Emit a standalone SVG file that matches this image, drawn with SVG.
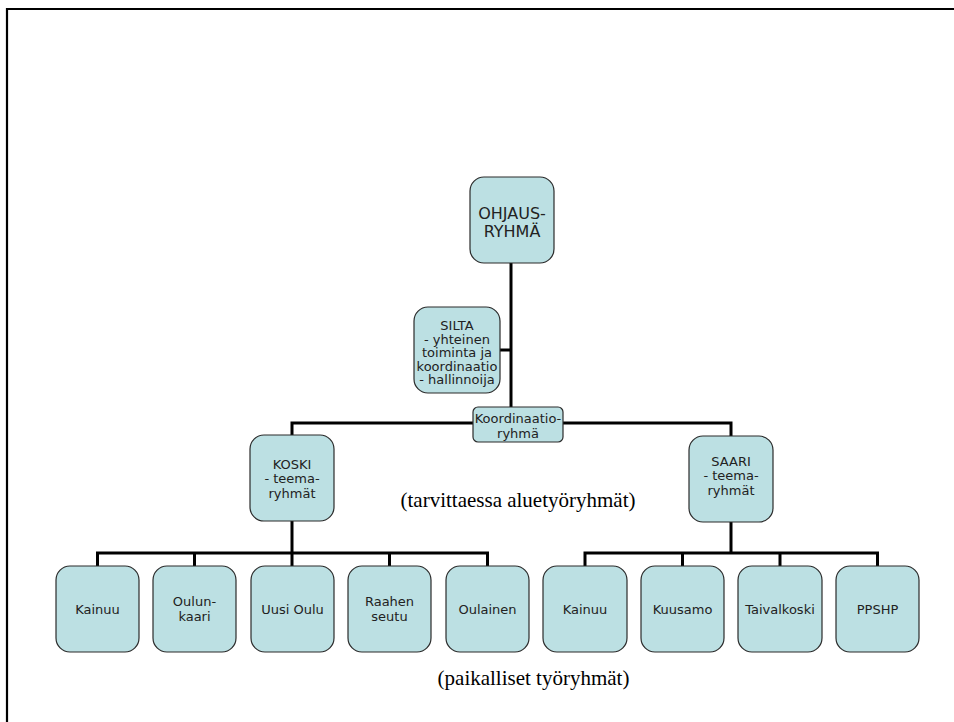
<svg xmlns="http://www.w3.org/2000/svg" width="954" height="722" viewBox="0 0 954 722">
<style>
.box{fill:#bce0e3;stroke:#2b2b2b;stroke-width:1.2}
.t{font-family:"DejaVu Sans",Verdana,sans-serif;font-size:13px;fill:#222;text-anchor:middle}
.big{font-size:16px}
.ser{font-family:"Liberation Serif","Times New Roman",serif;font-size:21px;fill:#000;text-anchor:middle}
.c{fill:none;stroke:#000;stroke-width:3}
</style>
<rect width="954" height="722" fill="#fff"/>
<path d="M7,722 V9 H954" fill="none" stroke="#000" stroke-width="2.2"/>
<g id="connectors" class="c">
<path class="c" d="M511,263 V407"/>
<path class="c" d="M500,350 H511"/>
<path class="c" d="M292,436 V423 H473"/>
<path class="c" d="M563,423 H731 V436"/>
<path class="c" d="M292,521 V553"/>
<path class="c" d="M97.5,566 V553 H487.5 V566"/>
<path class="c" d="M194.5,553 V566 M292,553 V566 M389.5,553 V566"/>
<path class="c" d="M731,522 V553"/>
<path class="c" d="M585,566 V553 H877.5 V566"/>
<path class="c" d="M682.5,553 V566 M780,553 V566"/>
</g>
<g id="ohjaus"><rect class="box" x="470" y="177" width="84" height="86" rx="14"/>
<text class="t big" x="512" y="219">OHJAUS-</text><text class="t big" x="512" y="237">RYHMÄ</text></g>
<g id="silta"><rect class="box" x="414" y="307" width="86" height="86" rx="14"/>
<text class="t" x="457" y="330">SILTA</text>
<text class="t" x="457" y="343.5">- yhteinen</text>
<text class="t" x="457" y="357">toiminta ja</text>
<text class="t" x="457" y="370.5">koordinaatio</text>
<text class="t" x="457" y="384">- hallinnoija</text></g>
<g id="koordinaatio"><rect class="box" x="473" y="407" width="90" height="35" rx="5"/>
<text class="t" x="518" y="423">Koordinaatio-</text><text class="t" x="518" y="438">ryhmä</text></g>
<g id="koski"><rect class="box" x="250" y="435" width="84" height="86" rx="14"/>
<text class="t" x="292" y="468.5">KOSKI</text><text class="t" x="292" y="483">- teema-</text><text class="t" x="292" y="497.5">ryhmät</text></g>
<g id="saari"><rect class="box" x="689" y="436" width="84" height="86" rx="14"/>
<text class="t" x="731" y="465.5">SAARI</text><text class="t" x="731" y="480">- teema-</text><text class="t" x="731" y="494.5">ryhmät</text></g>
<text class="ser" x="518" y="507">(tarvittaessa aluetyöryhmät)</text>
<g id="kainuu1"><rect class="box" x="56" y="566" width="83" height="86" rx="14"/><text class="t" x="97.5" y="613.5">Kainuu</text></g>
<g id="oulunkaari"><rect class="box" x="153" y="566" width="83" height="86" rx="14"/><text class="t" x="194.5" y="605.5">Oulun-</text><text class="t" x="194.5" y="620.5">kaari</text></g>
<g id="uusioulu"><rect class="box" x="251" y="566" width="83" height="86" rx="14"/><text class="t" x="292.5" y="613.5">Uusi Oulu</text></g>
<g id="raahe"><rect class="box" x="348" y="566" width="83" height="86" rx="14"/><text class="t" x="389.5" y="605.5">Raahen</text><text class="t" x="389.5" y="620.5">seutu</text></g>
<g id="oulainen"><rect class="box" x="446" y="566" width="83" height="86" rx="14"/><text class="t" x="487.5" y="613.5">Oulainen</text></g>
<g id="kainuu2"><rect class="box" x="543" y="566" width="84" height="86" rx="14"/><text class="t" x="585" y="613.5">Kainuu</text></g>
<g id="kuusamo"><rect class="box" x="641" y="566" width="83" height="86" rx="14"/><text class="t" x="682.5" y="613.5">Kuusamo</text></g>
<g id="taivalkoski"><rect class="box" x="738" y="566" width="84" height="86" rx="14"/><text class="t" x="780" y="613.5">Taivalkoski</text></g>
<g id="ppshp"><rect class="box" x="836" y="566" width="83" height="86" rx="14"/><text class="t" x="877.5" y="613.5">PPSHP</text></g>
<text class="ser" x="533.5" y="685">(paikalliset työryhmät)</text>
</svg>
